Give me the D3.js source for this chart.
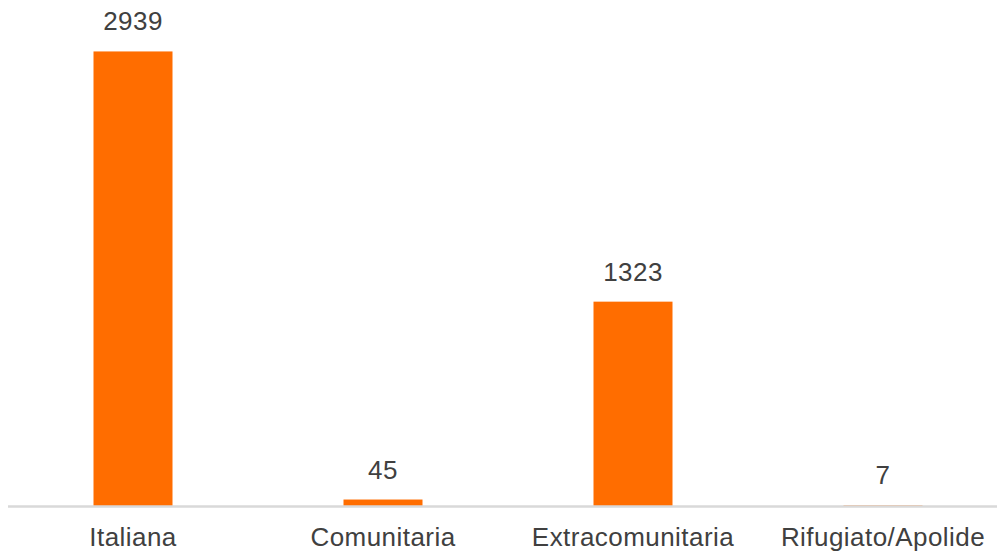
<!DOCTYPE html>
<html>
<head>
<meta charset="utf-8">
<script src="https://cdn.jsdelivr.net/npm/d3@7"></script>
<style>
  html, body { margin: 0; padding: 0; background: #ffffff; }
  svg { display: block; }
</style>
</head>
<body>
<svg id="chart" width="997" height="556"></svg>
<script>
// Cittadinanza: categorie e conteggi
const categories = ["Italiana", "Comunitaria", "Extracomunitaria", "Rifugiato/Apolide"];
const values = [2939, 45, 1323, 7];

const svg = d3.select("#chart");
const W = 997, H = 556;

const x = d3.scaleBand()
  .domain(categories)
  .range([8, 1008])
  .paddingInner(0.684)
  .paddingOuter(0.342);

const y = d3.scaleLinear()
  .domain([0, 3000])
  .range([506.5, 42]);

const font = "Liberation Sans, Arial, Helvetica, sans-serif";
const textColor = "#404040";

// barre
svg.append("g")
  .selectAll("rect")
  .data(categories)
  .join("rect")
  .attr("x", d => x(d))
  .attr("width", x.bandwidth())
  .attr("y", (d, i) => y(values[i]))
  .attr("height", (d, i) => y(0) - y(values[i]))
  .attr("fill", "#ff6d00");

// asse orizzontale, disegnato sopra le barre
const axis = svg.append("g")
  .attr("transform", `translate(0,${y(0)})`)
  .call(d3.axisBottom(x).tickSize(0).tickPadding(0));
axis.select(".domain").remove();
axis.append("line")
  .attr("x1", 8).attr("x2", W)
  .attr("y1", 0).attr("y2", 0)
  .attr("stroke", "#d9d9d9")
  .attr("stroke-width", 2.5);
axis.selectAll(".tick text")
  .attr("y", 39.5)
  .attr("dy", 0)
  .attr("font-family", font)
  .attr("font-size", 26)
  .attr("letter-spacing", 0.45)
  .attr("fill", textColor);

// etichette dei valori
svg.append("g")
  .selectAll("text")
  .data(categories)
  .join("text")
  .attr("x", d => x(d) + x.bandwidth() / 2)
  .attr("y", (d, i) => y(values[i]) - 21)
  .attr("text-anchor", "middle")
  .attr("font-family", font)
  .attr("font-size", 26)
  .attr("letter-spacing", 0.45)
  .attr("fill", textColor)
  .text((d, i) => values[i]);
</script>
</body>
</html>
